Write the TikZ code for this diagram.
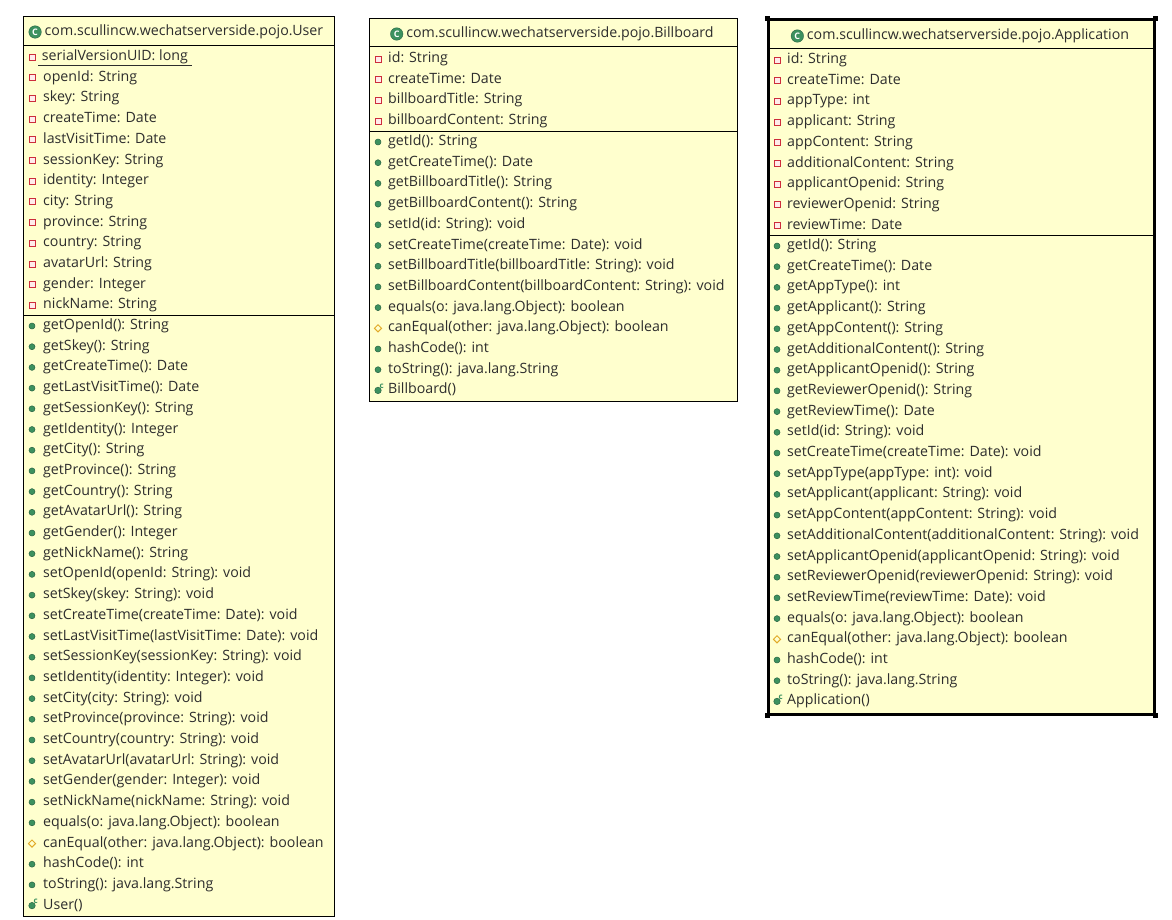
\documentclass[tikz,border=0pt]{standalone}
\usepackage{fontspec}
\setmainfont{Open Sans}
\usetikzlibrary{positioning,shapes.geometric}
\definecolor{umlfill}{RGB}{255,255,206}
\definecolor{umltext}{RGB}{45,45,45}
\definecolor{privred}{RGB}{205,45,60}
\definecolor{privpink}{RGB}{255,235,235}
\definecolor{pubgreen}{RGB}{60,145,95}
\definecolor{protyellow}{RGB}{225,170,40}
\tikzstyle{classbox}=[rectangle, draw=black, line width=1pt, fill=umlfill, anchor=north west, inner sep=0]
\tikzstyle{member}=[anchor=west, inner sep=0, text=umltext, text height=10.5pt, text depth=3.5pt, font=\fontsize{14.2}{16}\selectfont]
\tikzstyle{title}=[member, anchor=center]
\tikzstyle{f-ico}=[rectangle, draw=privred, fill=privpink, line width=1pt, minimum size=6pt, inner sep=0]
\tikzstyle{m-ico}=[circle, draw=pubgreen!70!black, fill=pubgreen, line width=0.5pt, minimum size=6pt, inner sep=0]
\tikzstyle{p-ico}=[diamond, draw=protyellow, line width=1pt, minimum size=7.5pt, inner sep=0]
\tikzstyle{c-ico}=[m-ico, minimum size=6.5pt, label={[inner sep=0, text=pubgreen, font=\fontsize{8}{8}\selectfont\bfseries, xshift=-1pt, yshift=-1pt]north east:c}]
\tikzstyle{cls-ico}=[circle, fill=pubgreen, draw=pubgreen!70!black, minimum size=12.5pt, inner sep=0, text=white, font=\fontsize{9}{9}\selectfont\bfseries]
\tikzstyle{handle}=[rectangle, fill=black, minimum size=5pt, inner sep=0]

\begin{document}
\begin{tikzpicture}[x=1pt,y=-1pt]
    \useasboundingbox (0,0) rectangle (1172,919);

        % User
        \node (user) [classbox, minimum width=311pt, minimum height=900pt] at (23,16) {};
        \node (user-title) [title] at (184,32) {com.scullincw.wechatserverside.pojo.User};
        \node (user-title-ico) [cls-ico, left=3pt of user-title] {C};
        \draw [line width=1pt] (23,45) -- (334,45);
        \draw [line width=1pt] (23,315) -- (334,315);
        \node (user-f0) [member] at (38,57) {\underline{\ serialVersionUID: long\ }};
        \node (user-f0-ico) [f-ico] at (32,57) {};
        \foreach \k/\t [count=\i] in {f/openId: String, f/skey: String, f/createTime: Date, f/lastVisitTime: Date, f/sessionKey: String, f/identity: Integer, f/city: String, f/province: String, f/country: String, f/avatarUrl: String, f/gender: Integer, f/nickName: String}{
            \node (user-f\i) [member] at (43,{57+\i*20.7}) {\t};
            \node (user-f\i-ico) [\k-ico] at ([xshift=-11pt]user-f\i.west) {};
        };
        \foreach \k/\t [count=\i] in {m/getOpenId(): String, m/getSkey(): String, m/getCreateTime(): Date, m/getLastVisitTime(): Date, m/getSessionKey(): String, m/getIdentity(): Integer, m/getCity(): String, m/getProvince(): String, m/getCountry(): String, m/getAvatarUrl(): String, m/getGender(): Integer, m/getNickName(): String, m/setOpenId(openId: String): void, m/setSkey(skey: String): void, m/setCreateTime(createTime: Date): void, m/setLastVisitTime(lastVisitTime: Date): void, m/setSessionKey(sessionKey: String): void, m/setIdentity(identity: Integer): void, m/setCity(city: String): void, m/setProvince(province: String): void, m/setCountry(country: String): void, m/setAvatarUrl(avatarUrl: String): void, m/setGender(gender: Integer): void, m/setNickName(nickName: String): void, m/equals(o: java.lang.Object): boolean, p/canEqual(other: java.lang.Object): boolean, m/hashCode(): int, m/toString(): java.lang.String, c/User()}{
            \node (user-m\i) [member] at (43,{326+(\i-1)*20.7}) {\t};
            \node (user-m\i-ico) [\k-ico] at ([xshift=-11pt]user-m\i.west) {};
        };

        % Billboard
        \node (billboard) [classbox, minimum width=368pt, minimum height=383pt] at (369,18) {};
        \node (billboard-title) [title] at (560,34) {com.scullincw.wechatserverside.pojo.Billboard};
        \node (billboard-title-ico) [cls-ico, left=3pt of billboard-title] {C};
        \draw [line width=1pt] (369,46) -- (737,46);
        \draw [line width=1pt] (369,131) -- (737,131);
        \foreach \k/\t [count=\i] in {f/id: String, f/createTime: Date, f/billboardTitle: String, f/billboardContent: String}{
            \node (billboard-f\i) [member] at (388,{59+(\i-1)*20.7}) {\t};
            \node (billboard-f\i-ico) [\k-ico] at ([xshift=-10pt]billboard-f\i.west) {};
        };
        \foreach \k/\t [count=\i] in {m/getId(): String, m/getCreateTime(): Date, m/getBillboardTitle(): String, m/getBillboardContent(): String, m/setId(id: String): void, m/setCreateTime(createTime: Date): void, m/setBillboardTitle(billboardTitle: String): void, m/setBillboardContent(billboardContent: String): void, m/equals(o: java.lang.Object): boolean, p/canEqual(other: java.lang.Object): boolean, m/hashCode(): int, m/toString(): java.lang.String, c/Billboard()}{
            \node (billboard-m\i) [member] at (388,{142+(\i-1)*20.7}) {\t};
            \node (billboard-m\i-ico) [\k-ico] at ([xshift=-10pt]billboard-m\i.west) {};
        };

        % Application (selected)
        \node (application) [classbox, line width=2.5pt, minimum width=386pt, minimum height=695pt] at (767,18) {};
        \node (application-title) [title] at (968,36) {com.scullincw.wechatserverside.pojo.Application};
        \node (application-title-ico) [cls-ico, left=3pt of application-title] {C};
        \draw [line width=1pt] (767,48) -- (1153,48);
        \draw [line width=1pt] (767,235) -- (1153,235);
        \foreach \k/\t [count=\i] in {f/id: String, f/createTime: Date, f/appType: int, f/applicant: String, f/appContent: String, f/additionalContent: String, f/applicantOpenid: String, f/reviewerOpenid: String, f/reviewTime: Date}{
            \node (application-f\i) [member] at (787,{60+(\i-1)*20.7}) {\t};
            \node (application-f\i-ico) [\k-ico] at ([xshift=-10pt]application-f\i.west) {};
        };
        \foreach \k/\t [count=\i] in {m/getId(): String, m/getCreateTime(): Date, m/getAppType(): int, m/getApplicant(): String, m/getAppContent(): String, m/getAdditionalContent(): String, m/getApplicantOpenid(): String, m/getReviewerOpenid(): String, m/getReviewTime(): Date, m/setId(id: String): void, m/setCreateTime(createTime: Date): void, m/setAppType(appType: int): void, m/setApplicant(applicant: String): void, m/setAppContent(appContent: String): void, m/setAdditionalContent(additionalContent: String): void, m/setApplicantOpenid(applicantOpenid: String): void, m/setReviewerOpenid(reviewerOpenid: String): void, m/setReviewTime(reviewTime: Date): void, m/equals(o: java.lang.Object): boolean, p/canEqual(other: java.lang.Object): boolean, m/hashCode(): int, m/toString(): java.lang.String, c/Application()}{
            \node (application-m\i) [member] at (787,{246+(\i-1)*20.7}) {\t};
            \node (application-m\i-ico) [\k-ico] at ([xshift=-10pt]application-m\i.west) {};
        };
        \foreach \c in {north west, north east, south west, south east}{
            \node (handle-\c) [handle] at (application.\c) {};
        };

    \end{tikzpicture}
\end{document}
